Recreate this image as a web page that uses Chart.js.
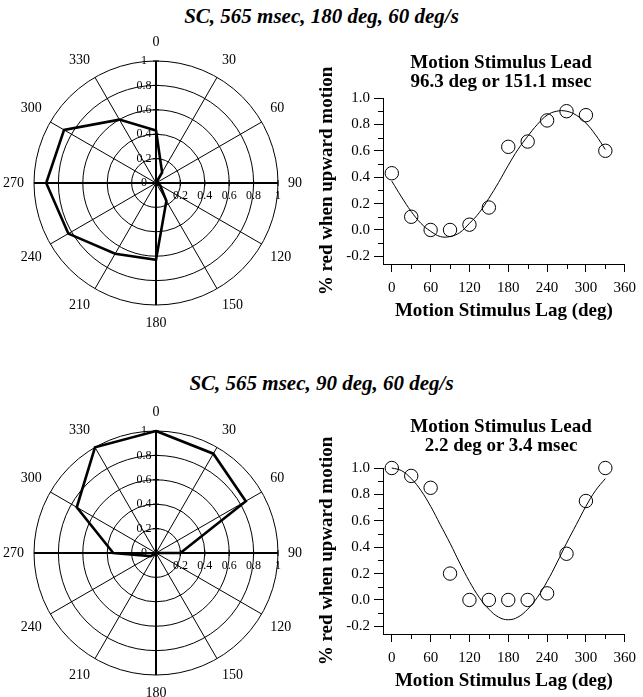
<!DOCTYPE html>
<html>
<head>
<meta charset="utf-8">
<script src="https://cdn.jsdelivr.net/npm/chart.js@4"></script>
<style>
  body { margin: 0; background: #fff; }
  #page { position: relative; width: 643px; height: 697px; overflow: hidden; color: #000; }
  canvas { position: absolute; }
  .main { position: absolute; left: 0; width: 643px; text-align: center; font: italic bold 21px/21px "Liberation Serif", "Times New Roman", serif; }
  .sub { position: absolute; left: 381px; width: 240px; text-align: center; font: bold 19px/19px "Liberation Serif", "Times New Roman", serif; }
</style>
</head>
<body>
<div id="page">
  <div class="main" style="top:6px">SC, 565 msec, 180 deg, 60 deg/s</div>
  <canvas id="polar_1" width="306" height="302" style="left:0px;top:33px"></canvas>
  <canvas id="lag_1" width="327" height="266" style="left:316px;top:58px"></canvas>
  <div class="sub" style="top:52px">Motion Stimulus Lead<br>96.3 deg or 151.1 msec</div>

  <div class="main" style="top:373px">SC, 565 msec, 90 deg, 60 deg/s</div>
  <canvas id="polar_2" width="306" height="302" style="left:0px;top:403px"></canvas>
  <canvas id="lag_2" width="327" height="266" style="left:316px;top:428px"></canvas>
  <div class="sub" style="top:416px">Motion Stimulus Lead<br>2.2 deg or 3.4 msec</div>
</div>

<script>
// stimulus lag, one value every 30 deg
let lagDeg = [0, 30, 60, 90, 120, 150, 180, 210, 240, 270, 300, 330];
let angleLabels = ['0', '30', '60', '90', '120', '150', '180', '210', '240', '270', '300', '330'];

// fraction red when upward motion
let red180 = [0.43, 0.10, 0.00, 0.00, 0.04, 0.17, 0.63, 0.67, 0.83, 0.90, 0.87, 0.60];
let red90 = [1.00, 0.94, 0.85, 0.20, 0.00, 0.00, 0.00, 0.00, 0.05, 0.35, 0.75, 1.00];

// fitted curves, read every 15 deg
let fitDeg = [0, 15, 30, 45, 60, 75, 90, 105, 120, 135, 150, 165, 180, 195, 210, 225, 240, 255, 270, 285, 300, 315, 330];
let fit180 = [0.37, 0.25, 0.14, 0.05, -0.01, -0.05, -0.05, -0.02, 0.05, 0.13, 0.24, 0.36, 0.49, 0.61, 0.71, 0.80, 0.87, 0.90, 0.90, 0.87, 0.81, 0.72, 0.61];
let fit90 = [1.00, 0.98, 0.92, 0.83, 0.71, 0.57, 0.43, 0.28, 0.14, 0.02, -0.07, -0.13, -0.15, -0.13, -0.07, 0.02, 0.14, 0.28, 0.43, 0.57, 0.71, 0.83, 0.92];

// ticks
let radialTicks = [0, 0.2, 0.4, 0.6, 0.8, 1];
let lagTicks = [0, 60, 120, 180, 240, 300, 360];
let lagMinor = [30, 90, 150, 210, 270, 330];
let pctTicks = [-0.2, 0, 0.2, 0.4, 0.6, 0.8, 1.0];
let pctMinor = [-0.1, 0.1, 0.3, 0.5, 0.7, 0.9];

Chart.defaults.font.family = '"Liberation Serif", "Times New Roman", serif';
Chart.defaults.color = '#000';

// radius labels up the 0 line and along the 90 line
const polarAxisLabels = {
    id: 'polarAxisLabels',
    beforeDatasetsDraw(chart) {
        const s = chart.scales.r;
        const ctx = chart.ctx;
        ctx.save();
        ctx.fillStyle = '#000';
        ctx.strokeStyle = '#000';
        ctx.lineWidth = 1;
        ctx.font = '12px "Liberation Serif", serif';
        ctx.textAlign = 'center';
        ctx.textBaseline = 'middle';
        radialTicks.forEach(v => {
            const d = s.getDistanceFromCenterForValue(v);
            ctx.fillText(String(v), s.xCenter - 12, s.yCenter - d);
            if (v > 0) {
                ctx.fillText(String(v), s.xCenter + d, s.yCenter + 12.5);
                ctx.beginPath();
                ctx.moveTo(s.xCenter + d, s.yCenter - 3);
                ctx.lineTo(s.xCenter + d, s.yCenter + 3);
                ctx.moveTo(s.xCenter - 3, s.yCenter - d);
                ctx.lineTo(s.xCenter + 3, s.yCenter - d);
                ctx.stroke();
            }
        });
        ctx.restore();
    }
};

// short unlabelled ticks between the labelled ones
const minorTicks = {
    id: 'minorTicks',
    afterDraw(chart) {
        const { ctx, scales: { x, y } } = chart;
        ctx.save();
        ctx.strokeStyle = '#000';
        ctx.lineWidth = 1;
        ctx.beginPath();
        lagMinor.forEach(v => {
            const px = Math.round(x.getPixelForValue(v)) + 0.5;
            ctx.moveTo(px, x.top);
            ctx.lineTo(px, x.top + 5);
        });
        pctMinor.forEach(v => {
            const py = Math.round(y.getPixelForValue(v)) + 0.5;
            ctx.moveTo(y.right - 5, py);
            ctx.lineTo(y.right, py);
        });
        ctx.stroke();
        ctx.restore();
    }
};

function polarChart(id, values) {
    new Chart(document.getElementById(id), {
        type: 'radar',
        data: {
            labels: angleLabels,
            datasets: [{
                data: values,
                borderColor: '#000',
                borderWidth: 2.6,
                fill: false,
                pointRadius: 0,
                tension: 0
            }]
        },
        options: {
            responsive: false,
            animation: false,
            plugins: {
                legend: { display: false },
                tooltip: { enabled: false }
            },
            scales: {
                r: {
                    min: 0,
                    max: 1,
                    afterBuildTicks: s => { s.ticks = radialTicks.map(v => ({ value: v })); },
                    ticks: { display: false },
                    grid: { color: '#000', lineWidth: 1, circular: true },
                    angleLines: { color: '#000', lineWidth: c => c.index % 3 === 0 ? 2 : 1 },
                    pointLabels: { color: '#000', font: { size: 14 }, padding: 10 }
                }
            }
        },
        plugins: [polarAxisLabels]
    });
}

function lagChart(id, fitValues, values) {
    new Chart(document.getElementById(id), {
        type: 'scatter',
        data: {
            datasets: [
                {
                    type: 'line',
                    data: fitDeg.map((d, i) => ({ x: d, y: fitValues[i] })),
                    borderColor: '#000',
                    borderWidth: 1,
                    pointRadius: 0,
                    tension: 0.4,
                    fill: false,
                    clip: false
                },
                {
                    data: lagDeg.map((d, i) => ({ x: d, y: values[i] })),
                    pointRadius: 6.7,
                    pointBorderWidth: 1,
                    pointBorderColor: '#000',
                    pointBackgroundColor: 'rgba(0,0,0,0)',
                    clip: false
                }
            ]
        },
        options: {
            responsive: false,
            animation: false,
            layout: { padding: { top: 40, right: 12, left: 0, bottom: 0 } },
            plugins: {
                legend: { display: false },
                tooltip: { enabled: false }
            },
            scales: {
                x: {
                    type: 'linear',
                    min: -13.6,
                    max: 360,
                    afterBuildTicks: s => { s.ticks = lagTicks.map(v => ({ value: v })); },
                    afterFit: s => { s.height = 60; },
                    grid: { drawOnChartArea: false, color: '#000', tickLength: 8 },
                    border: { color: '#000', width: 1 },
                    ticks: { color: '#000', font: { size: 15 }, padding: 7, maxRotation: 0, autoSkip: false },
                    title: {
                        display: true,
                        text: 'Motion Stimulus Lag (deg)',
                        color: '#000',
                        font: { size: 19, weight: 'bold', lineHeight: 1 },
                        padding: { top: 0, bottom: 3 }
                    }
                },
                y: {
                    min: -0.258,
                    max: 1,
                    afterBuildTicks: s => { s.ticks = pctTicks.map(v => ({ value: v })); },
                    afterFit: s => { s.width = 67; },
                    grid: { drawOnChartArea: false, color: '#000', tickLength: 9 },
                    border: { color: '#000', width: 1 },
                    ticks: { color: '#000', font: { size: 15 }, padding: 4, callback: v => v.toFixed(1) },
                    title: {
                        display: true,
                        text: '% red when upward motion',
                        color: '#000',
                        font: { size: 19, weight: 'bold', lineHeight: 1 },
                        padding: { top: 1.5, bottom: 0 }
                    }
                }
            }
        },
        plugins: [minorTicks]
    });
}

polarChart('polar_1', red180);
lagChart('lag_1', fit180, red180);
polarChart('polar_2', red90);
lagChart('lag_2', fit90, red90);
</script>
</body>
</html>
